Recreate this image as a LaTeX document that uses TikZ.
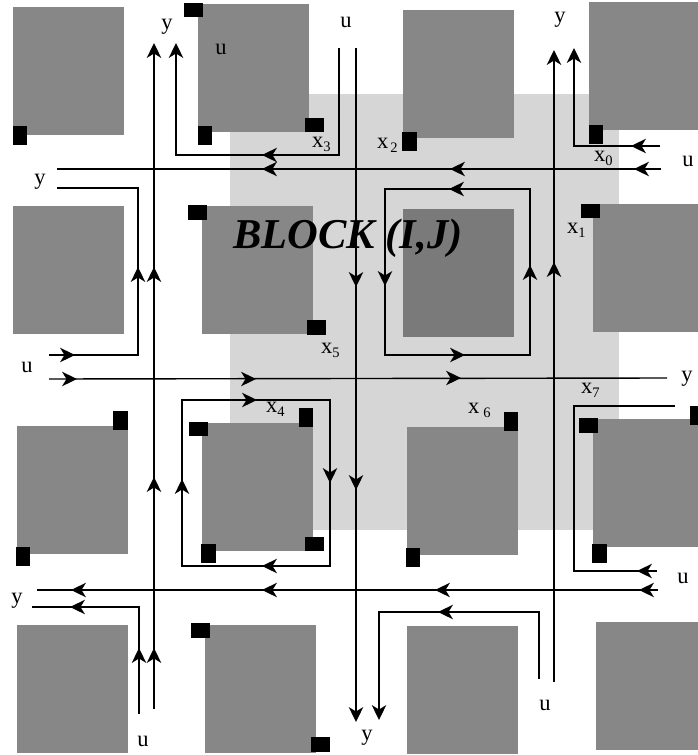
\documentclass[tikz,border=0pt]{standalone}
\usepackage{fontspec}
\setmainfont{Liberation Serif}
\definecolor{blockgray}{HTML}{878787}
\definecolor{coregray}{HTML}{7A7A7A}
\definecolor{areagray}{HTML}{D6D6D6}
\tikzset{
  wire/.style={draw=black,line width=1.4pt,line join=miter},
  pad/.style={fill=black},
  lab/.style={anchor=base,inner sep=0pt,font=\fontsize{22.5}{22.5}\selectfont},
  xlab/.style={anchor=base west,inner sep=0pt,font=\fontsize{22.5}{22.5}\selectfont},
}
\newcommand{\gb}[5][blockgray]{\fill[#1] (#2,#3) rectangle (#4,#5);}
\newcommand{\pd}[4]{\fill[pad] (#1,#2) rectangle (#3,#4);}
\newcommand{\tp}[3]{\fill[black,shift={(#1,#2)},rotate=#3] (0,0) -- (-15,-7.3) -- (-10.5,0) -- (-15,7.3) -- cycle;}
\newcommand{\tpU}[2]{\tp{#1}{#2}{90}}
\newcommand{\tpD}[2]{\tp{#1}{#2}{270}}
\newcommand{\tpL}[2]{\tp{#1}{#2}{180}}
\newcommand{\tpR}[2]{\tp{#1}{#2}{0}}
\newcommand{\sbs}[1]{\raisebox{-4.5pt}{\fontsize{14.5}{14.5}\selectfont #1}}
\begin{document}
\begin{tikzpicture}[x=1pt,y=-1pt]
\useasboundingbox (0,0) rectangle (698,755);
\fill[white] (0,0) rectangle (698,755);
\fill[areagray] (230,94) rectangle (619,530);
% blocks
\gb{13}{7}{124}{135}
\gb{198}{4}{309}{132}
\gb{403}{10}{514}{138}
\gb{589}{2}{698}{130}
\gb{13}{206}{124}{334}
\gb{202}{206}{313}{334}
\gb[coregray]{403}{209}{514}{337}
\gb{593}{204}{698}{332}
\gb{17}{426}{128}{554}
\gb{202}{423}{313}{551}
\gb{407}{427}{518}{555}
\gb{593}{419}{698}{547}
\gb{17}{625}{128}{753}
\gb{205}{625}{316}{753}
\gb{407}{626}{518}{754}
\gb{596}{622}{698}{750}
% pads
\pd{13}{126}{27}{145}
\pd{184}{3}{203}{17}
\pd{198}{126}{212}{145}
\pd{305}{118}{324}{132}
\pd{402}{132}{417}{151}
\pd{589}{125}{603}{144}
\pd{581}{204}{600}{218}
\pd{188}{205}{207}{220}
\pd{307}{320}{326}{335}
\pd{113}{411}{128}{430}
\pd{16}{547}{30}{566}
\pd{189}{422}{208}{436}
\pd{299}{408}{313}{427}
\pd{305}{537}{324}{551}
\pd{201}{544}{216}{563}
\pd{191}{623}{210}{638}
\pd{311}{737}{330}{752}
\pd{504}{412}{518}{431}
\pd{579}{418}{598}{433}
\pd{690}{406}{698}{425}
\pd{592}{544}{607}{563}
\pd{406}{548}{420}{567}
% title
\node[anchor=base,inner sep=0pt,font=\fontsize{42.5}{42.5}\selectfont\bfseries\itshape] (title) at (348,248) {BLOCK (I,J)};
% wires
\draw[wire] (154,709) -- (154,45);
\tpU{154}{43}\tpU{154}{267}\tpU{154}{477}\tpU{154}{648}
\draw[wire] (49,355) -- (138,355) -- (138,188) -- (57,188);
\tpR{75}{355}\tpU{138}{267}
\draw[wire] (661,169) -- (57,169);
\tpL{634}{169}\tpL{450}{169}\tpL{262}{169}
\draw[wire] (339,48) -- (339,155) -- (176,155) -- (176,45);
\tpL{262}{155}\tpU{176}{43}
\draw[wire] (660,146) -- (574,146) -- (574,50);
\tpL{631}{146}\tpU{574}{48}
\draw[wire] (356,48) -- (356,720);
\tpD{356}{287}\tpD{356}{490}\tpD{356}{722}
\draw[wire] (554,682) -- (554,52);
\tpU{554}{50}\tpU{554}{262}
\draw[wire] (385,189) rectangle (530,355);
\tpL{449}{189}\tpD{385}{286}\tpR{465}{355}\tpU{530}{265}
\draw[wire] (49,379) -- (667,378);
\tpR{77}{379}\tpR{256}{379}\tpR{461}{378}
\draw[wire] (182,400) rectangle (330,566);
\tpR{257}{400}\tpD{330}{483}\tpL{262}{566}\tpU{182}{479}
\draw[wire] (675,406) -- (574,406) -- (574,571) -- (657,571);
\tpL{637}{571}
\draw[wire] (658,590) -- (37,590);
\tpL{639}{590}\tpL{435}{590}\tpL{262}{590}\tpL{71}{590}
\draw[wire] (139,714) -- (139,607) -- (32,607);
\tpU{139}{648}\tpL{70}{607}
\draw[wire] (539,679) -- (539,612) -- (379,612) -- (379,718);
\tpL{438}{612}\tpD{379}{720}
% labels
\node[lab] (l1) at (167,29) {y};
\node[lab] (l2) at (221,54) {u};
\node[lab] (l3) at (346,27) {u};
\node[lab] (l4) at (40,184) {y};
\node[lab] (l5) at (27,372) {u};
\node[lab] (l6) at (560,22) {y};
\node[lab] (l7) at (688,166) {u};
\node[lab] (l8) at (687,381) {y};
\node[lab] (l9) at (683,583) {u};
\node[lab] (l10) at (545,710) {u};
\node[lab] (l11) at (367,740) {y};
\node[lab] (l12) at (143,746) {u};
\node[lab] (l13) at (17,603) {y};
\node[xlab] (x3) at (312,147) {x\sbs{3}};
\node[xlab] (x5) at (321,353) {x\sbs{5}};
\node[xlab] (x2) at (377,148) {x\hspace{2pt}\sbs{2}};
\node[xlab] (x0) at (594,161) {x\sbs{0}};
\node[xlab] (x1) at (567,233) {x\sbs{1}};
\node[xlab] (x4) at (266,412) {x\sbs{4}};
\node[xlab] (x6) at (468,413) {x\hspace{4pt}\sbs{6}};
\node[xlab] (x7) at (581,393) {x\sbs{7}};
\end{tikzpicture}
\end{document}
